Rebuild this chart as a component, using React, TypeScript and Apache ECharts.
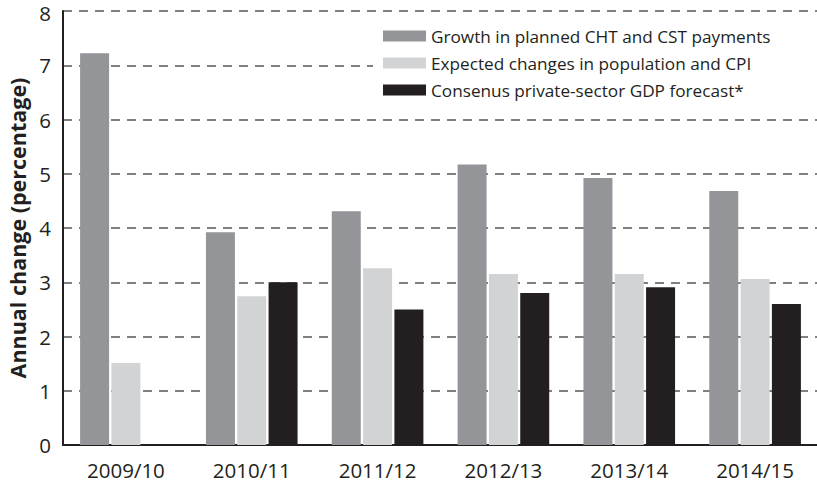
import React, { useEffect, useRef } from "react";
import * as echarts from "echarts";

const categories = ["2009/10", "2010/11", "2011/12", "2012/13", "2013/14", "2014/15"];
const growthCHTCST = [7.22, 3.92, 4.31, 5.17, 4.92, 4.68];
const popCPI = [1.51, 2.74, 3.26, 3.15, 3.15, 3.06];
const gdpForecast = [null, 3.0, 2.5, 2.8, 2.91, 2.6];
const seriesNames = [
  "Growth in planned CHT and CST payments",
  "Expected changes in population and CPI",
  "Consenus private-sector GDP forecast*",
];

const FONT = "'Open Sans', 'Noto Sans', sans-serif";
const TEXT = "#231f20";

export default function App() {
  const ref = useRef<HTMLDivElement>(null);
  useEffect(() => {
    if (!ref.current) return;
    const chart = echarts.init(ref.current, null, { renderer: "svg" });
    const colors = ["#939598", "#d1d3d4", "#231f20"];
    const data = [growthCHTCST, popCPI, gdpForecast];
    chart.setOption({
      animation: false,
      textStyle: { fontFamily: FONT, color: TEXT },
      grid: {
        left: 63,
        right: -1,
        top: 11,
        bottom: 40,
        containLabel: false,
        outerBoundsMode: "none",
      },
      legend: {
        orient: "vertical",
        left: 373,
        top: 16,
        padding: [10, 52, 10, 10],
        backgroundColor: "#ffffff",
        itemWidth: 43,
        itemHeight: 11,
        itemGap: 7,
        icon: "rect",
        textStyle: { fontFamily: FONT, fontSize: 17.2, color: TEXT, lineHeight: 20 },
        data: seriesNames,
      },
      xAxis: {
        type: "category",
        data: categories,
        axisTick: { show: false },
        axisLine: { show: true, lineStyle: { color: TEXT, width: 2 } },
        axisLabel: { fontFamily: FONT, fontSize: 20.5, color: TEXT, margin: 14 },
      },
      yAxis: {
        type: "value",
        min: 0,
        max: 8,
        interval: 1,
        name: "Annual change (percentage)",
        nameLocation: "middle",
        nameGap: 34,
        nameTextStyle: { fontFamily: FONT, fontSize: 21.5, fontWeight: "bold", color: TEXT },
        axisLine: { show: true, lineStyle: { color: TEXT, width: 2 } },
        axisTick: { show: false },
        axisLabel: {
          fontFamily: FONT,
          fontSize: 20.5,
          lineHeight: 18,
          color: TEXT,
          margin: 12,
          formatter: (v: number) => (v === 8 ? "{top|8}" : String(v)),
          rich: {
            top: {
              fontFamily: FONT,
              fontSize: 20.5,
              lineHeight: 18,
              color: TEXT,
              padding: [4, 0, 0, 0],
            },
          },
        },
        splitLine: {
          show: true,
          lineStyle: { type: [9, 7], color: "#555555", width: 1.5 },
        },
      },
      series: seriesNames.map((name, i) => ({
        name,
        type: "bar",
        data: data[i],
        barWidth: 29,
        barGap: "8%",
        itemStyle: { color: colors[i] },
        z: 3,
      })),
    });
    return () => chart.dispose();
  }, []);
  return (
    <div
      ref={ref}
      style={{ position: "fixed", left: 0, top: 0, width: 817, height: 485, background: "#fff" }}
    />
  );
}
